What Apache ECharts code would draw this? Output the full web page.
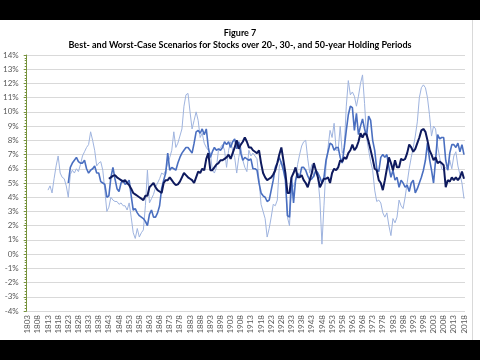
<!DOCTYPE html>
<html>
<head>
<meta charset="utf-8">
<script src="https://cdn.jsdelivr.net/npm/echarts@6/dist/echarts.min.js"></script>
<style>html,body{margin:0;padding:0;background:#fff}#c{width:480px;height:360px}</style>
</head>
<body>
<div id="c"></div>
<script>
// ---- Data ----
const firstYear = 1803, lastYear = 2018;
const titleText = 'Figure 7';
const subtitleText = 'Best- and Worst-Case Scenarios for Stocks over 20-, 30-, and 50-year Holding Periods';
const yTicks = [-4, -3, -2, -1, 0, 1, 2, 3, 4, 5, 6, 7, 8, 9, 10, 11, 12, 13, 14];

// 20-year holding period, 1813-2018 (%)
const start20 = 1813;
const series20 = [
  4.5, 4.8, 4.3, 5.3, 6.2, 6.9, 5.7,
  5.4, 5.3, 4.8, 4.0, 5.6, 5.9, 5.7, 6.0, 5.8, 6.3,
  6.9, 7.2, 7.5, 7.7, 8.6, 8.0, 7.3, 6.2, 6.4, 6.5,
  5.9, 4.5, 3.0, 3.3, 4.0, 3.8, 3.7, 3.7, 3.5, 3.6,
  3.4, 3.4, 3.1, 3.6, 2.6, 1.5, 1.1, 1.8, 1.2, 1.5,
  1.7, 3.4, 5.9, 3.6, 3.9, 4.2, 4.7, 5.0, 5.3, 5.7,
  5.6, 5.9, 6.4, 6.8, 7.3, 8.6, 7.5, 7.8, 8.3, 8.8,
  10.4, 11.2, 11.3, 10.0, 8.8, 9.4, 10.0, 9.4, 8.2, 8.5,
  7.8, 7.5, 7.3, 7.1, 5.9, 5.7, 6.1, 7.3, 7.5, 7.7,
  7.3, 6.1, 7.3, 7.9, 7.3, 6.8, 5.7, 6.8, 7.5, 6.6,
  6.1, 5.8, 7.3, 6.9, 7.1, 6.9, 6.7, 5.2, 3.5, 3.0,
  2.5, 1.2, 1.8, 2.6, 3.5, 3.4, 3.8, 6.2, 6.5, 6.0,
  5.5, 2.6, 2.0, 4.6, 4.8, 5.1, 6.3, 7.0, 7.6, 7.9,
  8.0, 6.7, 5.7, 6.3, 5.4, 5.9, 5.4, 3.8, 0.7, 3.4,
  6.2, 7.5, 8.7, 8.2, 9.2, 7.3, 7.3, 9.0, 7.1, 7.5,
  10.4, 12.2, 11.2, 11.4, 11.1, 10.4, 11.1, 12.0, 12.6, 10.6,
  8.2, 7.3, 6.5, 5.9, 4.5, 3.7, 3.8, 3.6, 2.9, 2.6,
  2.9, 2.0, 1.3, 2.5, 2.2, 2.6, 3.8, 3.4, 3.2, 4.0,
  5.0, 6.0, 6.8, 7.5, 8.3, 9.3, 11.0, 11.7, 11.9, 11.7,
  11.0, 9.8, 8.3, 9.0, 8.8, 7.6, 6.8, 6.0, 5.9, 6.1,
  5.9, 6.6, 6.0, 6.9, 7.2, 6.2, 5.6, 5.0, 3.9
];

// 30-year holding period, 1823-2018 (%)
const start30 = 1823;
const series30 = [
  5.0, 6.1, 6.4, 6.6, 6.8, 6.5, 6.4,
  6.4, 6.6, 6.0, 5.7, 5.9, 6.0, 6.2, 5.7, 5.7, 5.1,
  5.0, 4.9, 4.0, 4.1, 5.4, 6.1, 5.3, 4.6, 4.4, 5.0,
  5.2, 4.9, 5.0, 5.2, 4.1, 3.1, 3.2, 2.9, 2.7, 2.6,
  2.5, 2.3, 2.0, 2.8, 3.1, 2.6, 2.6, 2.9, 3.4, 4.6,
  5.2, 5.7, 7.1, 5.9, 6.1, 6.0, 5.9, 6.4, 6.8, 7.1,
  7.3, 7.5, 7.5, 7.3, 7.1, 7.8, 8.6, 8.7, 8.5, 8.8,
  8.4, 8.8, 7.5, 6.8, 7.2, 7.5, 7.3, 7.4, 7.3, 7.5,
  7.9, 7.7, 7.9, 7.5, 7.9, 8.1, 7.4, 7.9, 7.1, 6.6,
  6.8, 6.7, 6.6, 6.7, 6.0, 6.0, 5.9, 5.0, 4.3, 4.1,
  4.0, 3.7, 3.8, 4.5, 5.2, 6.1, 6.4, 6.8, 6.4, 5.9,
  5.2, 2.7, 2.6, 5.4, 3.6, 5.2, 5.7, 5.4, 6.1, 6.1,
  5.9, 5.5, 5.2, 5.3, 5.5, 5.9, 5.7, 5.4, 5.0, 5.4,
  6.6, 7.2, 7.8, 7.7, 7.3, 7.5, 7.5, 6.8, 6.4, 7.5,
  8.7, 9.8, 10.4, 10.3, 8.7, 9.9, 8.4, 9.0, 9.5, 8.8,
  8.3, 9.7, 9.4, 8.0, 7.3, 6.0, 5.8, 6.8, 7.0, 6.8,
  7.0, 6.1, 5.4, 5.9, 5.2, 5.4, 4.7, 5.2, 5.0, 4.7,
  4.85, 4.4, 5.0, 5.2, 4.3, 4.6, 5.0, 5.4, 5.9, 6.6,
  7.8, 6.7, 5.9, 5.0, 6.6, 8.4, 8.1, 8.2, 8.2, 6.6,
  5.9, 7.1, 7.7, 7.7, 7.5, 7.8, 7.2, 7.7, 7.0
];

// 50-year holding period, 1843-2018 (%)
const start50 = 1843;
const series50 = [
  5.3, 5.4, 5.5, 5.55, 5.4, 5.3, 5.2,
  5.1, 5.2, 5.0, 4.85, 4.6, 4.3, 4.2, 4.1, 4.0, 3.9,
  3.8, 4.1, 4.1, 4.7, 4.85, 5.0, 4.7, 4.5, 4.4, 4.3,
  5.0, 5.2, 5.2, 5.4, 5.2, 5.0, 4.85, 4.9, 5.1, 5.4,
  5.7, 5.55, 5.4, 5.3, 5.2, 5.0, 5.4, 5.8, 5.7, 6.0,
  5.9, 6.7, 7.1, 5.9, 5.9, 6.1, 6.3, 6.4, 6.6, 6.6,
  6.7, 6.8, 7.0, 6.7, 7.1, 7.5, 8.0, 7.4, 7.7, 7.9,
  8.2, 7.9, 7.5, 7.5, 7.3, 7.2, 7.1, 7.3, 6.4, 5.7,
  5.4, 5.2, 5.3, 5.4, 5.6, 5.9, 6.4, 7.0, 7.5, 6.6,
  5.7, 4.3, 4.3, 5.4, 5.7, 6.1, 5.4, 5.4, 5.55, 5.2,
  5.0, 4.7, 5.2, 5.7, 6.4, 5.9, 5.4, 4.7, 5.0, 5.3,
  5.3, 5.4, 5.0, 5.7, 6.0, 5.9, 6.1, 6.6, 6.5, 6.8,
  6.7, 7.1, 7.3, 7.7, 7.3, 7.5, 7.9, 8.5, 8.2, 8.5,
  8.4, 7.9, 7.3, 6.7, 6.0, 5.9, 5.2, 5.0, 4.5, 5.2,
  6.0, 6.8, 6.4, 5.9, 6.6, 6.1, 6.1, 6.7, 6.6, 6.7,
  7.1, 7.7, 7.5, 7.2, 7.4, 7.8, 8.2, 8.7, 8.8, 8.6,
  8.0, 7.3, 7.0, 6.6, 6.8, 6.4, 6.5, 6.4, 6.25, 4.7,
  5.2, 5.1, 5.4, 5.2, 5.4, 5.2, 5.4, 5.8, 5.3
];

// ---- Build ----
const years = [];
for (let y = firstYear; y <= lastYear; y++) years.push(String(y));
function align(start, vals) {
  const out = [];
  for (let y = firstYear; y <= lastYear; y++) {
    const i = y - start;
    out.push(i >= 0 && i < vals.length ? vals[i] : null);
  }
  return out;
}

const font = 'Lato, "Open Sans", sans-serif';
const chart = echarts.init(document.getElementById('c'), null, {renderer: 'canvas'});
chart.setOption({
  animation: false,
  backgroundColor: '#ffffff',
  title: [
    {text: titleText, left: 'center', top: 24,
     textStyle: {fontFamily: font, fontSize: 9, fontWeight: 'bold', color: '#000'}},
    {text: subtitleText, left: 'center', top: 36,
     textStyle: {fontFamily: font, fontSize: 9, fontWeight: 'bold', color: '#000'}}
  ],
  graphic: [
    {type: 'rect', shape: {x: 0, y: 0, width: 480, height: 20}, style: {fill: '#000'}},
    {type: 'rect', shape: {x: 0, y: 340, width: 480, height: 20}, style: {fill: '#000'}},
    {type: 'line', shape: {x1: 472.5, y1: 20, x2: 472.5, y2: 340}, style: {stroke: '#d9d9d9', lineWidth: 1}}
  ],
  grid: {left: 26, right: 15, top: 55, bottom: 49, containLabel: false},
  xAxis: {
    type: 'category', data: years, boundaryGap: true,
    axisLine: {show: false}, axisTick: {show: false},
    axisLabel: {interval: 4, rotate: 90, fontFamily: font, fontSize: 8, color: '#595959', margin: 4},
    splitLine: {show: false}
  },
  yAxis: {
    type: 'value', min: yTicks[0], max: yTicks[yTicks.length - 1], interval: 1,
    axisLine: {show: true, lineStyle: {color: '#76923c', width: 1}},
    axisTick: {show: true, length: 3, lineStyle: {color: '#76923c'}},
    minorTick: {show: true, splitNumber: 5, length: 2, lineStyle: {color: '#76923c'}},
    axisLabel: {formatter: v => v + '%', fontFamily: font, fontSize: 8, color: '#595959', margin: 8},
    splitLine: {show: true, lineStyle: {color: '#d9d9d9', width: 1}}
  },
  series: [
    {name: '20-year', type: 'line', data: align(start20, series20), showSymbol: false, connectNulls: false,
     lineStyle: {color: '#9fb4df', width: 1}, itemStyle: {color: '#9fb4df'}},
    {name: '30-year', type: 'line', data: align(start30, series30), showSymbol: false,
     lineStyle: {color: '#4a6fc0', width: 1.6}, itemStyle: {color: '#4a6fc0'}},
    {name: '50-year', type: 'line', data: align(start50, series50), showSymbol: false,
     lineStyle: {color: '#0e1a5e', width: 2}, itemStyle: {color: '#0e1a5e'}}
  ]
});
</script>
</body>
</html>
